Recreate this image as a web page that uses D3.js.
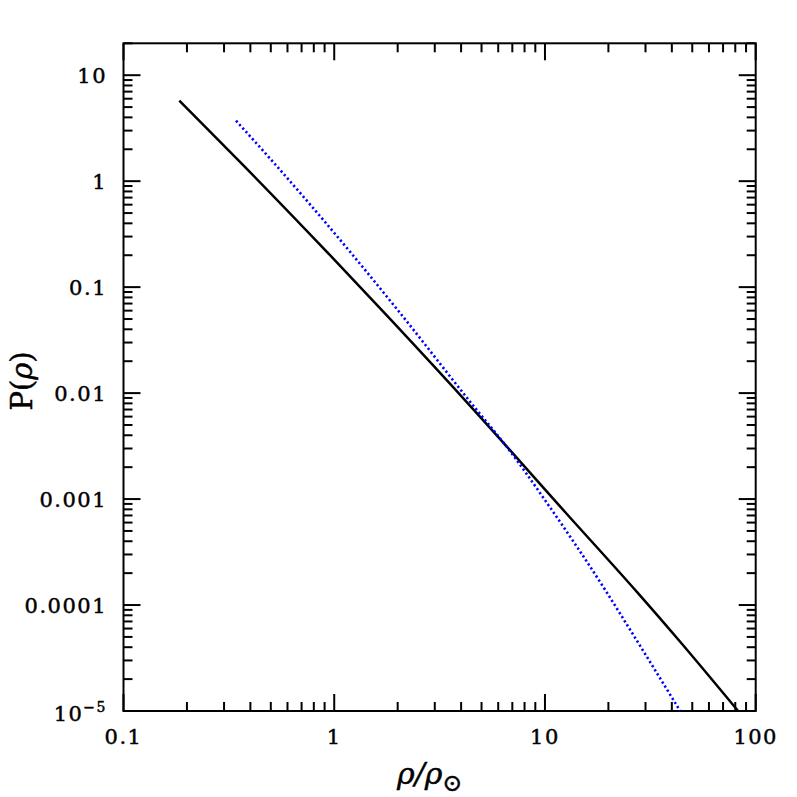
<!DOCTYPE html>
<html>
<head>
<meta charset="utf-8">
<script src="https://cdn.jsdelivr.net/npm/d3@7"></script>
<style>
	body { margin: 0; background: #fff; }
	svg { display: block; }
	text { font-family: 'DejaVu Serif', serif; fill: #000; stroke: #000; stroke-width: 0.45; }
</style>
</head>
<body>
<div id="chart"></div>
<script>
// Solid curve (black)
var solidRho = [0.184, 0.357, 0.955, 1.84, 4.57, 12.7, 27.3, 43.8, 82.5];
var solidP = [5.75, 1.52, 0.200, 0.0501, 0.00703, 7.23e-4, 1.33e-4, 4.5e-5, 1e-5];

// Dotted curve (blue)
var dottedRho = [0.342, 0.505, 1.19, 2.01, 4.74, 6.37, 10.6, 19.3, 22.7, 32.7, 43.8];
var dottedP = [3.72, 1.57, 0.215, 0.0601, 0.00695, 0.00339, 8.28e-4, 1.39e-4, 8.32e-5, 2.58e-5, 1e-5];

// Tick labels
var xTickValues = [0.1, 1, 10, 100];
var xTickLabels = ['0.1', '1', '10', '100'];
var yTickValues = [10, 1, 0.1, 0.01, 0.001, 0.0001, 1e-5];
var yTickLabels = ['10', '1', '0.1', '0.01', '0.001', '0.0001', '10-5'];

var attrs = {
	svgWidth: 797,
	svgHeight: 797,
	left: 123.5,
	right: 755.7,
	top: 43.3,
	bottom: 711,
	xDomain: [0.1, 100],
	yDomain: [1e-5, 20],
	majorTick: 17,
	minorTick: 9
};

var svg = d3.select('#chart').append('svg')
	.attr('width', attrs.svgWidth)
	.attr('height', attrs.svgHeight);

var x = d3.scaleLog().domain(attrs.xDomain).range([attrs.left, attrs.right]);
var y = d3.scaleLog().domain(attrs.yDomain).range([attrs.bottom, attrs.top]);

// minor ticks: 2..9 in every decade
function logTicks(domain) {
	var out = [];
	var lo = Math.floor(Math.log10(domain[0])), hi = Math.ceil(Math.log10(domain[1]));
	for (var e = lo; e <= hi; e++) {
		for (var m = 1; m <= 9; m++) {
			var v = m * Math.pow(10, e);
			if (v >= domain[0] * 0.999 && v <= domain[1] * 1.001) out.push({ v: v, major: m === 1 });
		}
	}
	return out;
}

var tickG = svg.append('g').attr('stroke', '#000').attr('stroke-width', 2);

logTicks(attrs.xDomain).forEach(function (t) {
	var len = t.major ? attrs.majorTick : attrs.minorTick;
	var px = x(t.v);
	tickG.append('line').attr('x1', px).attr('x2', px).attr('y1', attrs.bottom).attr('y2', attrs.bottom - len);
	tickG.append('line').attr('x1', px).attr('x2', px).attr('y1', attrs.top).attr('y2', attrs.top + len);
});

logTicks(attrs.yDomain).forEach(function (t) {
	var len = t.major ? attrs.majorTick : attrs.minorTick;
	var py = y(t.v);
	tickG.append('line').attr('y1', py).attr('y2', py).attr('x1', attrs.left).attr('x2', attrs.left + len);
	tickG.append('line').attr('y1', py).attr('y2', py).attr('x1', attrs.right).attr('x2', attrs.right - len);
});

// Frame
svg.append('rect')
	.attr('x', attrs.left).attr('y', attrs.top)
	.attr('width', attrs.right - attrs.left).attr('height', attrs.bottom - attrs.top)
	.attr('fill', 'none').attr('stroke', '#000').attr('stroke-width', 2);

// X tick labels
xTickValues.forEach(function (v, i) {
	svg.append('text')
		.attr('x', x(v)).attr('y', 744)
		.attr('text-anchor', 'middle')
		.attr('font-size', 21)
		.attr('letter-spacing', 1.5)
		.text(xTickLabels[i]);
});

// Y tick labels
yTickValues.forEach(function (v, i) {
	var t = svg.append('text')
		.attr('x', 107).attr('y', y(v) + 8)
		.attr('text-anchor', 'end')
		.attr('font-size', 21)
		.attr('letter-spacing', 1.5);
	if (yTickLabels[i] === '10-5') {
		t.attr('y', y(v) + 10);
		t.append('tspan').text('10');
		t.append('tspan').attr('font-size', 14).attr('dy', -9).text('\u22125');
	} else {
		t.text(yTickLabels[i]);
	}
});

// Axis titles
var yt = svg.append('text')
	.attr('transform', 'translate(32,381) rotate(-90)')
	.attr('text-anchor', 'middle')
	.attr('font-size', 29);
yt.append('tspan').text('P(');
yt.append('tspan').attr('font-style', 'italic').text('\u03c1');
yt.append('tspan').text(')');

var xt = svg.append('text')
	.attr('x', 397).attr('y', 784)
	.attr('font-size', 30)
	.attr('font-style', 'italic');
xt.append('tspan').text('\u03c1/\u03c1');
xt.append('tspan').attr('font-size', 24).attr('font-style', 'normal').attr('dy', 7).text('\u2299');

// Curves
var line = d3.line()
	.x(function (d) { return x(d[0]); })
	.y(function (d) { return y(d[1]); })
	.curve(d3.curveMonotoneX);

svg.append('path')
	.datum(solidRho.map(function (r, i) { return [r, solidP[i]]; }))
	.attr('d', line)
	.attr('fill', 'none')
	.attr('stroke', '#000')
	.attr('stroke-width', 2.5);

svg.append('path')
	.datum(dottedRho.map(function (r, i) { return [r, dottedP[i]]; }))
	.attr('d', line)
	.attr('fill', 'none')
	.attr('stroke', '#0000ff')
	.attr('stroke-width', 2.6)
	.attr('stroke-dasharray', '2.2 2.6');
</script>
</body>
</html>
